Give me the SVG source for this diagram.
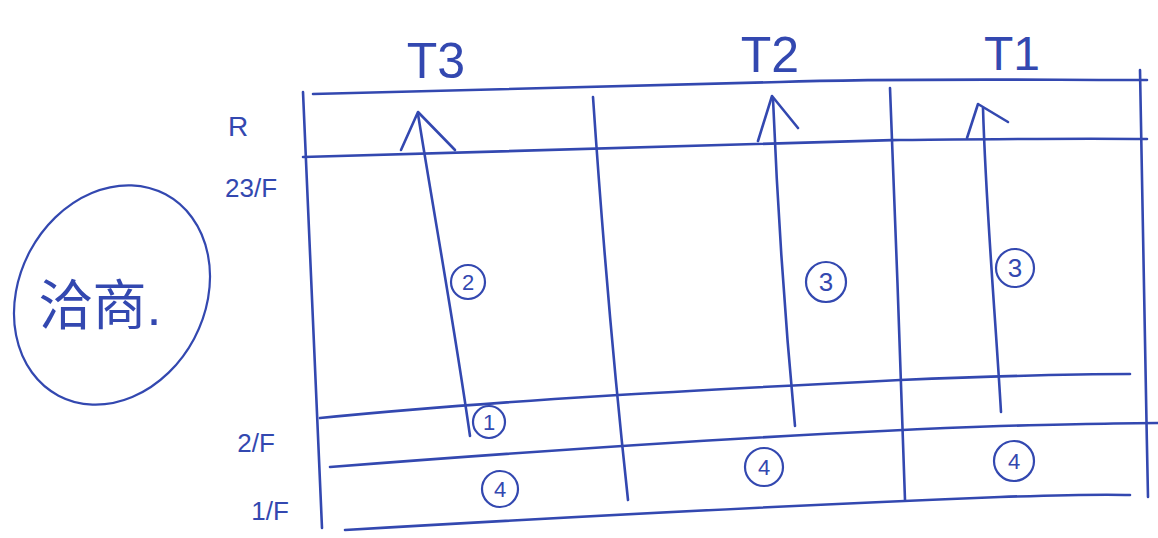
<svg xmlns="http://www.w3.org/2000/svg" width="1158" height="538" viewBox="0 0 1158 538">
<style>
.ln{fill:none;stroke:#3348b0;stroke-width:2.6;stroke-linecap:round;stroke-linejoin:round}
.ci{fill:none;stroke:#3348b0;stroke-width:2.2}
.t{fill:#3348b0;font-family:"Liberation Sans","Noto Sans CJK SC",sans-serif}
</style>
<rect width="1158" height="538" fill="#fff"/>
<g id="grid">
<path class="ln" d="M313,94 C500,88 650,84 780,82 C900,78 1030,80 1147,80"/>
<path class="ln" d="M303,157 C500,150 700,144 900,140 C1000,139 1080,138 1147,139"/>
<path class="ln" d="M320,418 C500,400 700,390 900,380 C1000,376 1080,374 1130,374"/>
<path class="ln" d="M330,467 C550,450 800,433 1000,426 C1080,424 1130,423 1158,423"/>
<path class="ln" d="M345,530 C550,518 800,505 1000,497 C1060,495 1100,494 1130,495"/>
<path class="ln" d="M303,92 C308,200 314,350 322,528"/>
<path class="ln" d="M593,97 C602,230 615,380 628,500"/>
<path class="ln" d="M890,88 C896,220 900,370 905,500"/>
<path class="ln" d="M1140,70 C1142,200 1145,350 1148,497"/>
</g>
<g id="connectors">
<path class="ln" d="M470,436 C455,330 435,220 418,114"/>
<path class="ln" d="M401,150 L418,112 L455,150"/>
<path class="ln" d="M795,426 C785,320 778,220 773,99"/>
<path class="ln" d="M758,141 L772,96 L798,128"/>
<path class="ln" d="M1001,412 C995,310 986,210 983,108"/>
<path class="ln" d="M967,138 L978,104 L1008,122"/>
</g>
<g id="labels-top">
<text class="t" x="436" y="78" font-size="50" text-anchor="middle">T3</text>
<text class="t" x="770" y="72" font-size="50" text-anchor="middle">T2</text>
<text class="t" x="1012" y="70" font-size="48" text-anchor="middle">T1</text>
</g>
<g id="labels-floor">
<text class="t" x="238" y="136" font-size="28" text-anchor="middle">R</text>
<text class="t" x="251" y="197" font-size="26" text-anchor="middle">23/F</text>
<text class="t" x="256" y="452" font-size="26" text-anchor="middle">2/F</text>
<text class="t" x="270" y="520" font-size="26" text-anchor="middle">1/F</text>
</g>
<g id="note">
<ellipse class="ci" cx="112" cy="295" rx="93" ry="114" transform="rotate(28 112 295)"/>
<text class="t" x="100" y="325" font-size="54" text-anchor="middle">洽商.</text>
</g>
<g id="n2"><circle class="ci" cx="468" cy="282" r="17"/><text class="t" x="468" y="290" font-size="22" text-anchor="middle">2</text></g>
<g id="n3a"><circle class="ci" cx="826" cy="282" r="20"/><text class="t" x="826" y="291" font-size="26" text-anchor="middle">3</text></g>
<g id="n3b"><circle class="ci" cx="1015" cy="268" r="19"/><text class="t" x="1015" y="277" font-size="26" text-anchor="middle">3</text></g>
<g id="n1"><circle class="ci" cx="489" cy="422" r="16"/><text class="t" x="489" y="430" font-size="22" text-anchor="middle">1</text></g>
<g id="n4a"><circle class="ci" cx="500" cy="489" r="18"/><text class="t" x="500" y="497" font-size="22" text-anchor="middle">4</text></g>
<g id="n4b"><circle class="ci" cx="764" cy="467" r="19"/><text class="t" x="764" y="475" font-size="22" text-anchor="middle">4</text></g>
<g id="n4c"><circle class="ci" cx="1014" cy="461" r="20"/><text class="t" x="1014" y="469" font-size="22" text-anchor="middle">4</text></g>
</svg>
